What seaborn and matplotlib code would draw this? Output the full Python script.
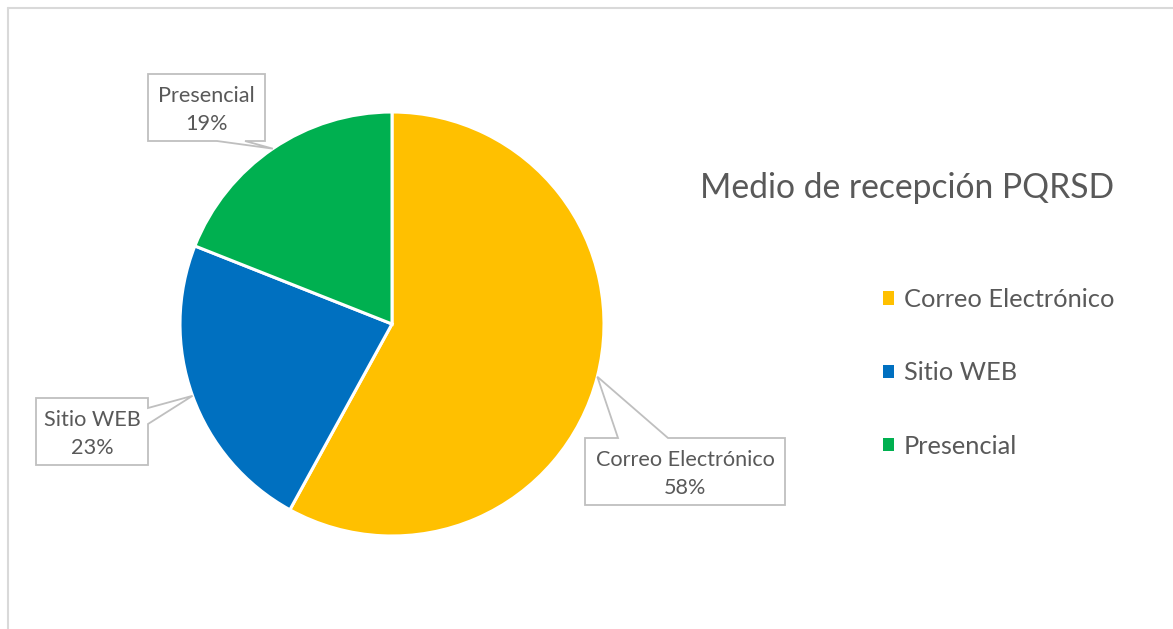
import numpy as np
import seaborn as sns
import matplotlib.pyplot as plt
from matplotlib.patches import Patch, Polygon
from matplotlib.lines import Line2D

W, H = 1173, 629

categories = ["Correo Electrónico", "Sitio WEB", "Presencial"]
shares = [58, 23, 19]
title = "Medio de recepción PQRSD"

sns.set_theme(style="white")
plt.rcParams["font.family"] = ["Lato", "DejaVu Sans"]

palette = sns.color_palette(["#FFC000", "#0070C0", "#00B050"])
text_gray = "#595959"
line_gray = "#BFBFBF"

# callout boxes in pixel coords (y down): box, side the pointer leaves from, pointer base
label_boxes = {
    "Correo Electrónico": ((585, 438, 785, 505), "top", (618, 668)),
    "Sitio WEB": ((36, 398, 148, 465), "right", (408, 424)),
    "Presencial": ((148, 74, 265, 141), "bottom", (217, 245)),
}

pie_center = (392, H - 324)
pie_radius = 212


def callout(ax, box, side, base, tip):
    x0, y0, x1, y1 = box
    a, b = base
    tl, tr, br, bl = (x0, y0), (x1, y0), (x1, y1), (x0, y1)
    if side == "top":
        pts = [tl, (a, y0), tip, (b, y0), tr, br, bl]
    elif side == "right":
        pts = [tl, tr, (x1, a), tip, (x1, b), br, bl]
    else:
        pts = [tl, tr, br, (b, y1), tip, (a, y1), bl]
    pts = [(x, H - y) for x, y in pts]
    ax.add_patch(Polygon(pts, closed=True, fc="white", ec=line_gray, lw=1.3, zorder=5))


fig = plt.figure(figsize=(W / 100, H / 100), dpi=100)
ax = fig.add_axes([0, 0, 1, 1])

wedges, _ = ax.pie(
    shares,
    colors=palette,
    startangle=90,
    counterclock=False,
    center=pie_center,
    radius=pie_radius,
    wedgeprops=dict(edgecolor="white", linewidth=2.2),
)

for w, name, val in zip(wedges, categories, shares):
    box, side, base = label_boxes[name]
    mid = np.deg2rad((w.theta1 + w.theta2) / 2)
    tip_x = pie_center[0] + pie_radius * np.cos(mid)
    tip_y = H - (pie_center[1] + pie_radius * np.sin(mid))
    callout(ax, box, side, base, (tip_x, tip_y))
    cx = (box[0] + box[2]) / 2
    cy = (box[1] + box[3]) / 2 + 2.5
    ax.text(cx, H - cy, f"{name}\n{val}%", ha="center", va="center",
            fontsize=15.6, color=text_gray, linespacing=1.5, zorder=6)

ax.text(700, H - 198, title, ha="left", va="baseline", fontsize=24.2, color=text_gray)

handles = [Patch(facecolor=c, edgecolor="none") for c in palette]
ax.legend(
    handles, categories,
    loc="center left",
    bbox_to_anchor=(883 / W, 1 - 373 / H),
    bbox_transform=fig.transFigure,
    frameon=False,
    fontsize=18.3,
    labelcolor=text_gray,
    handlelength=0.43,
    handleheight=0.43,
    handletextpad=0.39,
    labelspacing=1.98,
    borderpad=0,
    borderaxespad=0,
)

# chart frame (only top and left edges are visible in the crop)
ax.add_line(Line2D([8, W], [H - 7.5, H - 7.5], color="#D9D9D9", lw=1.5))
ax.add_line(Line2D([8, 8], [H - 7.5, 0], color="#D9D9D9", lw=1.5))

ax.set_xlim(0, W)
ax.set_ylim(0, H)
ax.set_aspect("auto")
ax.axis("off")

fig.savefig("out.png", dpi=100)
plt.close(fig)
